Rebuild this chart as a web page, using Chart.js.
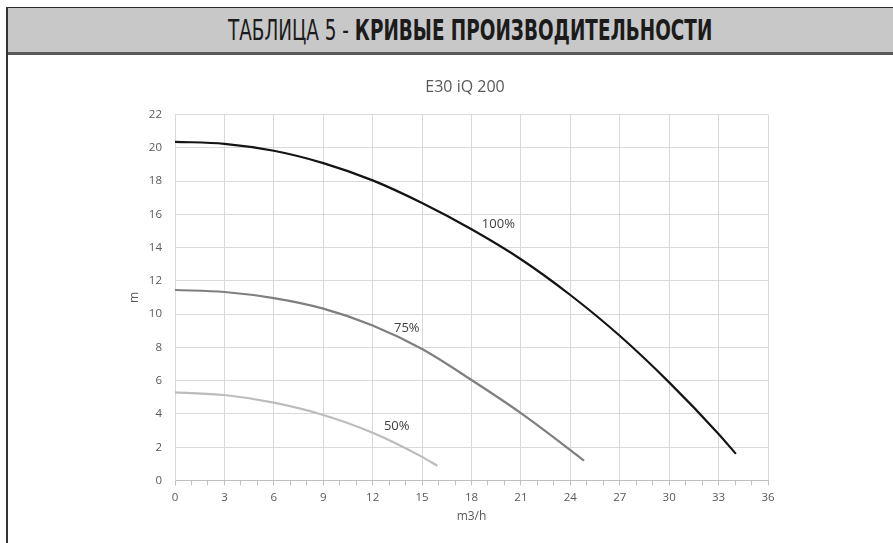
<!DOCTYPE html>
<html>
<head>
<meta charset="utf-8">
<script src="https://cdn.jsdelivr.net/npm/chart.js@4/dist/chart.umd.min.js"></script>
<style>
  html, body { margin: 0; padding: 0; background: #fff; }
  body { width: 893px; height: 543px; position: relative; overflow: hidden; }
  #frame { position: absolute; left: 6px; top: 7px; width: 2px; height: 536px; background: #333; z-index: 3; }
  #banner {
    position: absolute; left: 6px; top: 7px; width: 887px; height: 44px;
    background: #c8c8c9; border-top: 1px solid #2b2b2b; border-bottom: 3px solid #5a5a5a;
    z-index: 2; overflow: hidden;
  }
  #banner-text {
    position: absolute; top: 0; left: 0; white-space: nowrap;
    font-family: "Liberation Sans Narrow", "DejaVu Sans Condensed", "Liberation Sans", sans-serif;
    font-stretch: condensed; font-size: 29px; line-height: 44px; color: #1b1b1b;
    transform-origin: 0 50%;
  }
  #banner-text .light { font-weight: 400; }
  #banner-text .heavy { font-weight: 700; }
  #wrap { position: absolute; left: 0; top: 0; width: 893px; height: 543px; z-index: 1; }
</style>
</head>
<body>
<div id="banner"><span id="banner-text"><span class="light">ТАБЛИЦА 5 - </span><span class="heavy">КРИВЫЕ ПРОИЗВОДИТЕЛЬНОСТИ</span></span></div>
<div id="frame"></div>
<div id="wrap"><canvas id="chart" width="893" height="543"></canvas></div>
<script>
// Pump head curves for E30 iQ 200 at three speed settings
const flow100 = [0, 3, 6, 9, 12, 15, 18, 21, 24, 27, 30, 33, 34.05];
const head100 = [20.36, 20.24, 19.82, 19.08, 18.04, 16.68, 15.1, 13.3, 11.15, 8.7, 5.9, 2.8, 1.6];

const flow75 = [0, 3, 6, 9, 12, 15, 18, 21, 24, 24.83];
const head75 = [11.45, 11.33, 10.96, 10.33, 9.32, 7.9, 6.04, 4.05, 1.83, 1.19];

const flow50 = [0, 3, 6, 9, 12, 15, 15.93];
const head50 = [5.3, 5.14, 4.68, 3.94, 2.87, 1.42, 0.88];

const seriesNames = ['100%', '75%', '50%'];
const labelFlow = [19.63, 14.07, 13.46];
const labelHead = [15.41, 9.15, 3.23];

const xTickMax = 36, xMajorStep = 3;
const yTickMax = 22, yStep = 2;

// Banner heading: squeeze the condensed text to its measured span and centre it
(function fitBanner() {
  const el = document.getElementById('banner-text');
  const targetWidth = 484, centreX = 470 - 6;
  const w = el.offsetWidth;
  const s = targetWidth / w;
  el.style.transform = 'scaleX(' + s + ')';
  el.style.left = (centreX - targetWidth / 2) + 'px';
})();

const toPoints = (xs, ys) => xs.map((x, i) => ({ x: x, y: ys[i] }));

const lineColors = ['#141414', '#7f7f7f', '#bcbcbc'];
const curves = [toPoints(flow100, head100), toPoints(flow75, head75), toPoints(flow50, head50)];

const curveLabels = {
  id: 'curveLabels',
  afterDatasetsDraw(chart) {
    const { ctx, scales } = chart;
    ctx.save();
    ctx.font = '13px "Open Sans", sans-serif';
    ctx.fillStyle = '#404040';
    ctx.textAlign = 'center';
    ctx.textBaseline = 'middle';
    seriesNames.forEach((name, i) => {
      ctx.fillText(name, scales.x.getPixelForValue(labelFlow[i]), scales.y.getPixelForValue(labelHead[i]));
    });
    ctx.restore();
  }
};

Chart.defaults.font.family = '"Open Sans", sans-serif';

new Chart(document.getElementById('chart'), {
  type: 'scatter',
  data: {
    datasets: curves.map((pts, i) => ({
      label: seriesNames[i],
      data: pts,
      showLine: true,
      borderColor: lineColors[i],
      backgroundColor: lineColors[i],
      borderWidth: 2.2,
      pointRadius: 0,
      pointHoverRadius: 0,
      cubicInterpolationMode: 'monotone',
      fill: false
    }))
  },
  options: {
    responsive: false,
    animation: false,
    events: [],
    layout: { padding: { left: 127, right: 90, top: 77.4, bottom: 18.8 } },
    plugins: {
      legend: { display: false },
      tooltip: { enabled: false },
      title: {
        display: true,
        text: 'E30 iQ 200',
        color: '#595959',
        font: { size: 16, weight: 'normal' },
        padding: { top: 0, bottom: 17.9 }
      }
    },
    scales: {
      x: {
        type: 'linear',
        min: 0,
        max: xTickMax,
        afterFit: (s) => { s.height = 43.7; },
        ticks: {
          stepSize: 1,
          autoSkip: false,
          maxRotation: 0,
          padding: 5,
          color: '#595959',
          font: { size: 11.5 },
          callback: (v) => (v % xMajorStep === 0 ? String(v) : '')
        },
        grid: {
          color: (c) => (c.tick && c.tick.value % xMajorStep === 0 ? '#d9d9d9' : 'rgba(0,0,0,0)'),
          lineWidth: 1,
          drawTicks: true,
          tickLength: 5,
          tickColor: '#bfbfbf'
        },
        border: { color: '#bfbfbf', width: 1 },
        title: {
          display: true,
          text: 'm3/h',
          color: '#595959',
          font: { size: 12 },
          padding: { top: 0, bottom: 0 }
        }
      },
      y: {
        min: 0,
        max: yTickMax,
        afterFit: (s) => { s.width = 48; },
        ticks: {
          stepSize: yStep,
          padding: 13,
          color: '#595959',
          font: { size: 11.5 }
        },
        grid: { color: '#d9d9d9', lineWidth: 1, drawTicks: false },
        border: { color: '#d9d9d9', width: 1 },
        title: {
          display: true,
          text: 'm',
          color: '#595959',
          font: { size: 12 },
          padding: { top: 0, bottom: 0 }
        }
      },
      ySpacer: {
        position: 'right',
        min: 0,
        max: 1,
        afterFit: (s) => { s.width = 35; },
        ticks: { display: false },
        grid: { display: false, drawTicks: false },
        border: { display: false }
      }
    }
  },
  plugins: [curveLabels]
});
</script>
</body>
</html>
